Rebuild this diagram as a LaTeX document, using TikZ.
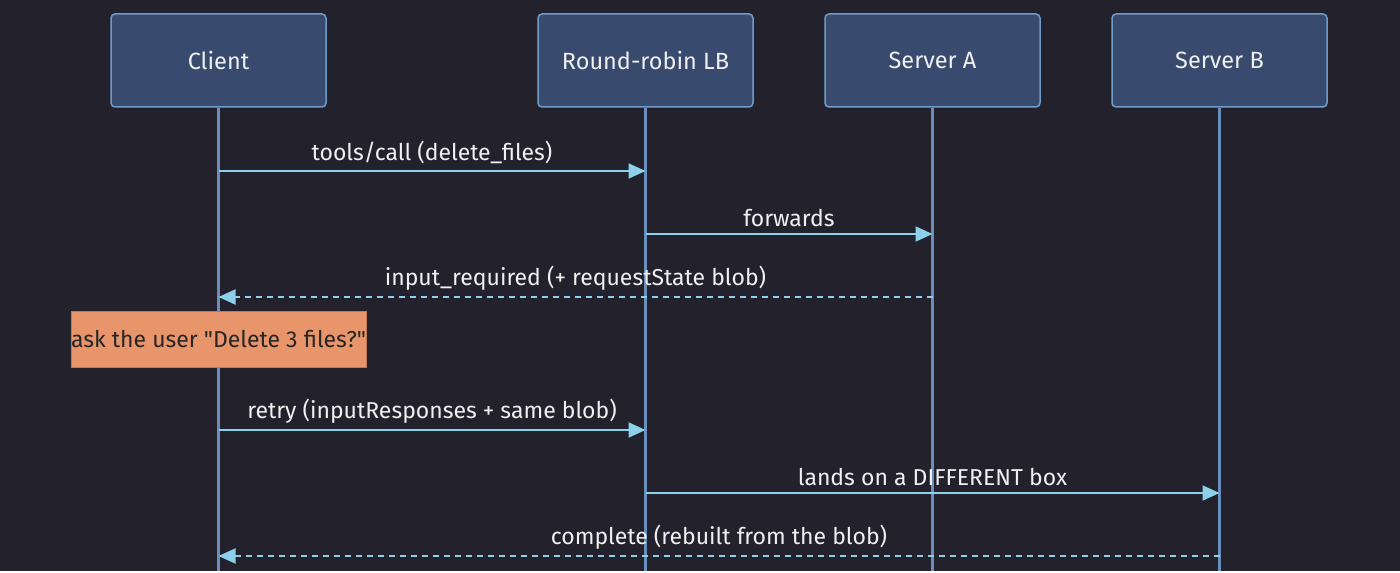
\documentclass[tikz,border=0pt]{standalone}
\usepackage{fontspec}
\setmainfont{Fira Sans}
\usetikzlibrary{arrows.meta}
\definecolor{bgcol}{HTML}{22212C}
\definecolor{actorfill}{HTML}{384A6E}
\definecolor{actorline}{HTML}{6F9CCB}
\definecolor{lifeline}{HTML}{6A8EBE}
\definecolor{msgline}{HTML}{8DD0EC}
\definecolor{notefill}{HTML}{E8956B}
\definecolor{noteline}{HTML}{C27A56}
\definecolor{labeltext}{HTML}{F0F0F0}
\tikzset{
  actor/.style={draw=actorline,fill=actorfill,line width=1.5pt,rounded corners=4pt,
    minimum width=215pt,minimum height=93pt,text=labeltext,font=\fontsize{23.5}{28}\selectfont},
  life/.style={draw=lifeline,line width=2.5pt},
  msg/.style={draw=msgline,line width=2pt,-{Triangle[length=17pt,width=15pt]}},
  reply/.style={msg,dash pattern=on 6pt off 5pt},
  lbl/.style={text=labeltext,font=\fontsize{23}{27}\selectfont,above=6pt,inner sep=0pt},
  note/.style={draw=noteline,fill=notefill,line width=1pt,minimum width=295pt,
    minimum height=56pt,inner sep=0pt,text=black!85,font=\fontsize{23}{27}\selectfont}
}
\begin{document}
\begin{tikzpicture}[x=1pt,y=-1pt]
  \fill[bgcol] (0,0) rectangle (1400,571);
  % participants and lifelines
  \foreach \n/\x/\t in {client/218.5/Client,lb/645.5/Round-robin LB,sa/932.5/Server A,sb/1219.5/Server B}{
    \node[actor] (\n) at (\x,60.5) {\t};
    \coordinate (\n-end) at (\x,571);
    \draw[life] (\n.south) -- (\n-end);
  }
  % messages
  \draw[msg] (client |- 0,171) -- node[lbl]{tools/call (delete\_files)} (lb |- 0,171);
  \draw[msg] (lb |- 0,234) -- node[lbl]{forwards} (sa |- 0,234);
  \draw[reply] (sa |- 0,297) -- node[lbl]{input\_required (+ requestState blob)} (client |- 0,297);
  \node[note] (ask) at (218.5,339) {ask the user \textquotedbl Delete 3 files?\textquotedbl};
  \draw[msg] (client |- 0,430) -- node[lbl]{retry (inputResponses + same blob)} (lb |- 0,430);
  \draw[msg] (lb |- 0,493) -- node[lbl]{lands on a DIFFERENT box} (sb |- 0,493);
  \draw[reply] (sb |- 0,556) -- node[lbl]{complete (rebuilt from the blob)} (client |- 0,556);
\end{tikzpicture}
\end{document}
